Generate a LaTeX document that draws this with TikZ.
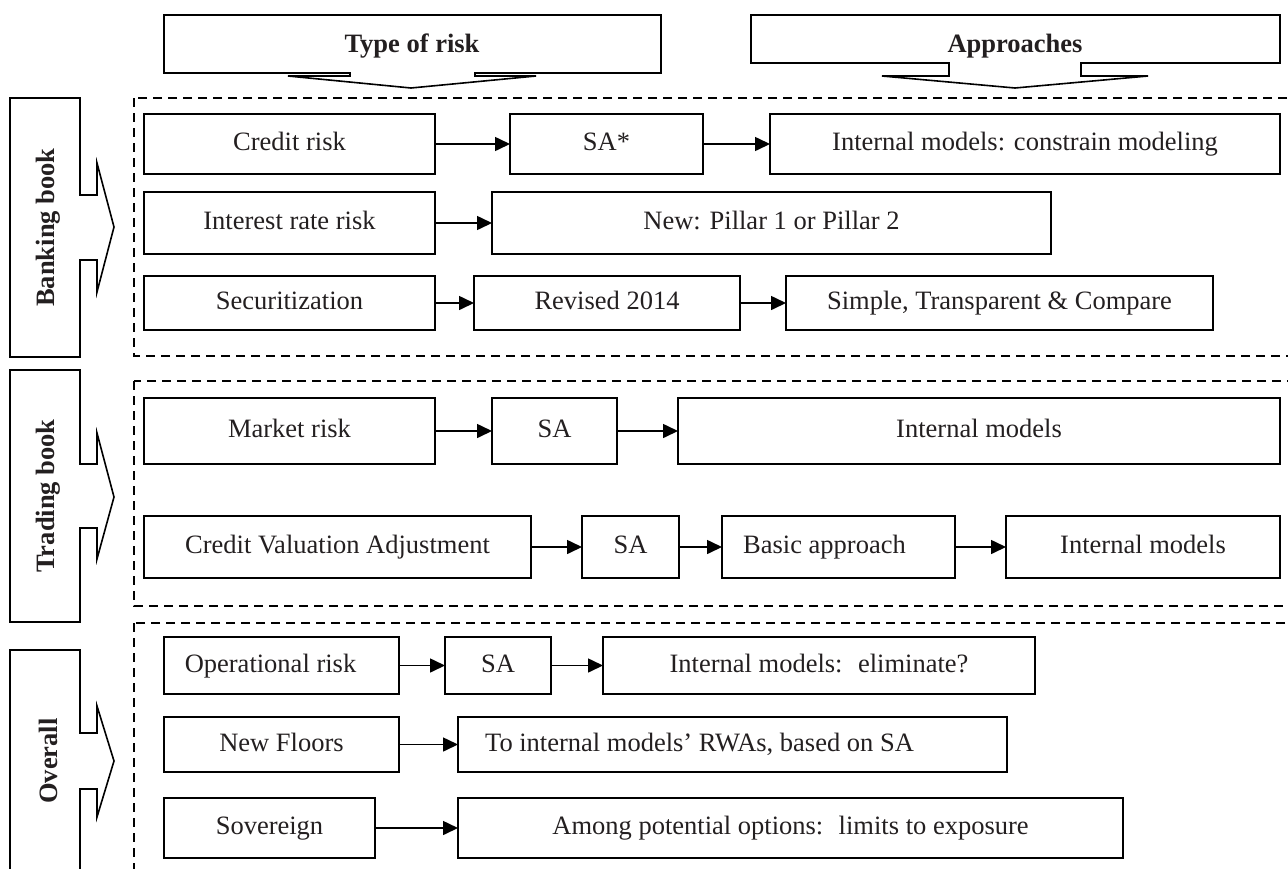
\documentclass[tikz,border=0pt]{standalone}
\usepackage{fontspec}
\setmainfont{Liberation Serif}
\usetikzlibrary{arrows.meta,positioning}
\definecolor{ink}{HTML}{231F20}

\begin{document}
\begin{tikzpicture}[x=1pt, y=-1pt, line width=1.6pt, text=ink,
    font=\fontsize{26.5}{30}\selectfont,
    box/.style={draw, inner sep=0pt, outer sep=0pt, text height=19pt, text depth=6pt, minimum height=#1},
    box/.default=60pt,
    head/.style={font=\fontsize{26.5}{30}\selectfont\bfseries},
    group/.style={draw, line width=1.4pt, dash pattern=on 9pt off 6pt},
    arr/.style={-{Triangle[length=15pt,width=14pt]}, line width=1.6pt}]
    \useasboundingbox (0,0) rectangle (1288,868);
    \clip (0,0) rectangle (1288,868);

    % headings
    \draw (164,15) -- (661,15) -- (661,73) -- (475,73) -- (475,76) -- (536,76) -- (411,88)
        -- (288,76) -- (350,76) -- (350,73) -- (164,73) -- cycle;
    \node[head, anchor=base] (risktype) at (412,52) {Type of risk};
    \draw (751,15) -- (1280,15) -- (1280,63) -- (1081,63) -- (1081,76) -- (1148,76) -- (1015,88)
        -- (882,76) -- (949,76) -- (949,63) -- (751,63) -- cycle;
    \node[head, anchor=base] (approach) at (1015,52) {Approaches};

    % side arrows
    \draw (10,98) -- (80,98) -- (80,195) -- (97,195) -- (97,163) -- (114,227) -- (97,292)
        -- (97,260) -- (80,260) -- (80,357) -- (10,357) -- cycle;
    \node[head, rotate=90] (banking) at (48,227.5) {Banking book};
    \draw (10,370) -- (80,370) -- (80,464) -- (97,464) -- (97,433) -- (114,497) -- (97,559)
        -- (97,528) -- (80,528) -- (80,622) -- (10,622) -- cycle;
    \node[head, rotate=90] (trading) at (48,496) {Trading book};
    \draw (10,650) -- (80,650) -- (80,733) -- (97,733) -- (97,706) -- (114,761) -- (97,817)
        -- (97,789) -- (80,789) -- (80,872) -- (10,872) -- cycle;
    \node[head, rotate=90] (overall) at (48,761) {Overall};

    \draw[group] (134,98) rectangle (1300,356);
    \draw[group] (134,381) rectangle (1300,606);
    \draw[group] (134,623) rectangle (1300,880);

    % banking book
    \node[box, minimum width=291pt] (credit) at (289.5,144) {Credit risk};
    \node[box, minimum width=193pt, right=75pt of credit] (saone) {SA*};
    \node[box, minimum width=510pt, right=67pt of saone] (imone) {Internal models: constrain modeling};

    \node[box=62pt, minimum width=291pt] (irr) at (289.5,223) {Interest rate risk};
    \node[box=62pt, minimum width=559pt, right=57pt of irr] (pillar) {New: Pillar 1 or Pillar 2};

    \node[box=54pt, minimum width=291pt] (secur) at (289.5,303) {Securitization};
    \node[box=54pt, minimum width=266pt, right=39pt of secur] (revised) {Revised 2014};
    \node[box=54pt, minimum width=427pt, right=46pt of revised] (simple) {Simple, Transparent \& Compare};

    % trading book
    \node[box=66pt, minimum width=291pt] (market) at (289.5,431) {Market risk};
    \node[box=66pt, minimum width=125pt, right=57pt of market] (satwo) {SA};
    \node[box=66pt, minimum width=602pt, right=61pt of satwo] (imtwo) {Internal models};

    \node[box=62pt, minimum width=387pt] (cva) at (337.5,547) {Credit Valuation Adjustment};
    \node[box=62pt, minimum width=97pt, right=51pt of cva] (sathree) {SA};
    \node[box=62pt, minimum width=233pt, right=43pt of sathree] (basic) {Basic approach\hspace*{28pt}};
    \node[box=62pt, minimum width=274pt, right=51pt of basic] (imthree) {Internal models};

    % overall
    \node[box=57pt, minimum width=235pt] (oprisk) at (281.5,665.5) {Operational risk\hspace*{22pt}};
    \node[box=57pt, minimum width=106pt, right=46pt of oprisk] (safour) {SA};
    \node[box=57pt, minimum width=432pt, right=52pt of safour] (imfour) {Internal models:~ eliminate?};

    \node[box=55pt, minimum width=235pt] (floors) at (281.5,744.5) {New Floors};
    \node[box=55pt, minimum width=549pt, right=59pt of floors] (tofloor) {To internal models' RWAs, based on SA\hspace*{66pt}};

    \node[box, minimum width=211pt] (sovereign) at (269.5,828) {Sovereign};
    \node[box, minimum width=665pt, right=83pt of sovereign] (among) {Among potential options:~ limits to exposure};

    \path[arr] (credit) edge (saone)
               (saone) edge (imone)
               (irr) edge (pillar)
               (secur) edge (revised)
               (revised) edge (simple);
    \path[arr] (market) edge (satwo)
               (satwo) edge (imtwo)
               (cva) edge (sathree)
               (sathree) edge (basic)
               (basic) edge (imthree);
    \path[arr] (oprisk) edge (safour)
               (safour) edge (imfour)
               (floors) edge (tofloor)
               (sovereign) edge (among);
\end{tikzpicture}
\end{document}
